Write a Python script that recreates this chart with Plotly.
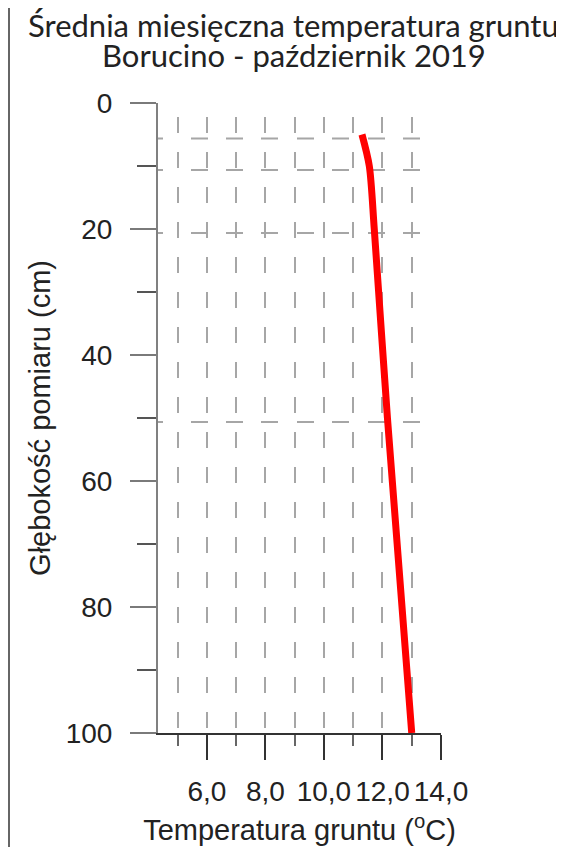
import plotly.graph_objects as go

# ---- data ----
depths_cm = [5, 10, 20, 50, 100]
temps_c = [11.3, 11.55, 11.72, 12.17, 13.0]

x_tick_vals = [6, 8, 10, 12, 14]
x_tick_text = ["6,0", "8,0", "10,0", "12,0", "14,0"]
x_minor_vals = [5, 7, 9, 11, 13]
y_tick_vals = [0, 20, 40, 60, 80, 100]
y_minor_vals = [10, 30, 50, 70, 90]
hgrid_depths = [5, 10, 20, 50]

title_line1 = "Średnia miesięczna temperatura gruntu"
title_line2 = "Borucino - październik 2019"
x_title = "Temperatura gruntu (<sup>o</sup>C)"
y_title = "Głębokość pomiaru (cm)"

# page shows figure offset by 8px (body margin); size figure to the visible area
W, H = 556, 839
L, R, T, B = 150, 123, 95, 114
plot_w = W - L - R
plot_h = H - T - B

GRID = "#a6a6a6"
FAM = "Liberation Sans, Arial, sans-serif"
AXFONT = dict(family=FAM, size=28, color="#222222")

fig = go.Figure()
fig.add_trace(go.Scatter(
    x=temps_c, y=depths_cm, mode="lines",
    line=dict(color="#ff0000", width=7, shape="spline", smoothing=0.8),
    showlegend=False, hoverinfo="x+y",
))

vdash = "0px,14px,16px,5px"
fig.update_xaxes(
    range=[4.33, 14], tickmode="array", tickvals=x_tick_vals, ticktext=x_tick_text,
    ticks="outside", ticklen=25, tickwidth=2, tickcolor="#333333",
    showline=True, linecolor="#333333", linewidth=2, zeroline=False,
    showgrid=True, gridcolor=GRID, gridwidth=2, griddash=vdash,
    minor=dict(tickmode="array", tickvals=x_minor_vals, ticks="outside", ticklen=11,
               tickwidth=2, tickcolor="#666666", showgrid=True, gridcolor=GRID,
               gridwidth=2, griddash=vdash),
    tickfont=AXFONT, ticklabelstandoff=7,
    title=dict(text=x_title, font=dict(family=FAM, size=29, color="#222222"), standoff=14),
)
fig.update_yaxes(
    range=[100, 0], tickmode="array", tickvals=y_tick_vals,
    ticks="outside", ticklen=26, tickwidth=2, tickcolor="#7a7a7a",
    showline=True, linecolor="#808080", linewidth=2, zeroline=False, showgrid=False,
    minor=dict(tickmode="array", tickvals=y_minor_vals, ticks="outside", ticklen=19,
               tickwidth=2, tickcolor="#555555", showgrid=False),
    tickfont=AXFONT, ticklabelstandoff=12,
    title=dict(text=y_title, font=dict(family=FAM, size=29, color="#222222"), standoff=7),
)

hdash = "5px,28px,17px,18px,17px,18px,17px,19px,17px,18px,17px,19px,17px,18px,17px,19px"
for d in hgrid_depths:
    fig.add_shape(type="line", xref="x domain", yref="y", ysizemode="pixel", yanchor=d,
                  x0=0, x1=0.926, y0=-4, y1=-4,
                  line=dict(color=GRID, width=2, dash=hdash), layer="below")

# left frame line
fx = (1 - L) / plot_w
fig.add_shape(type="line", xref="paper", yref="paper",
              x0=fx, x1=fx, y0=-B / plot_h, y1=(H - B) / plot_h,
              line=dict(color="#333333", width=1.5))

TFONT = dict(family="Lato, Carlito, sans-serif", size=31, color="#222222")
fig.add_annotation(text=title_line1, xref="paper", yref="paper",
                   x=(285 - L) / plot_w, y=(H - B - 17) / plot_h,
                   xanchor="center", yanchor="middle", showarrow=False, font=TFONT)
fig.add_annotation(text=title_line2, xref="paper", yref="paper",
                   x=(286 - L) / plot_w, y=(H - B - 47) / plot_h,
                   xanchor="center", yanchor="middle", showarrow=False, font=TFONT)

fig.update_layout(
    width=W, height=H, margin=dict(l=L, r=R, t=T, b=B, autoexpand=False),
    plot_bgcolor="white", paper_bgcolor="white",
)
fig.write_html("out.html")
